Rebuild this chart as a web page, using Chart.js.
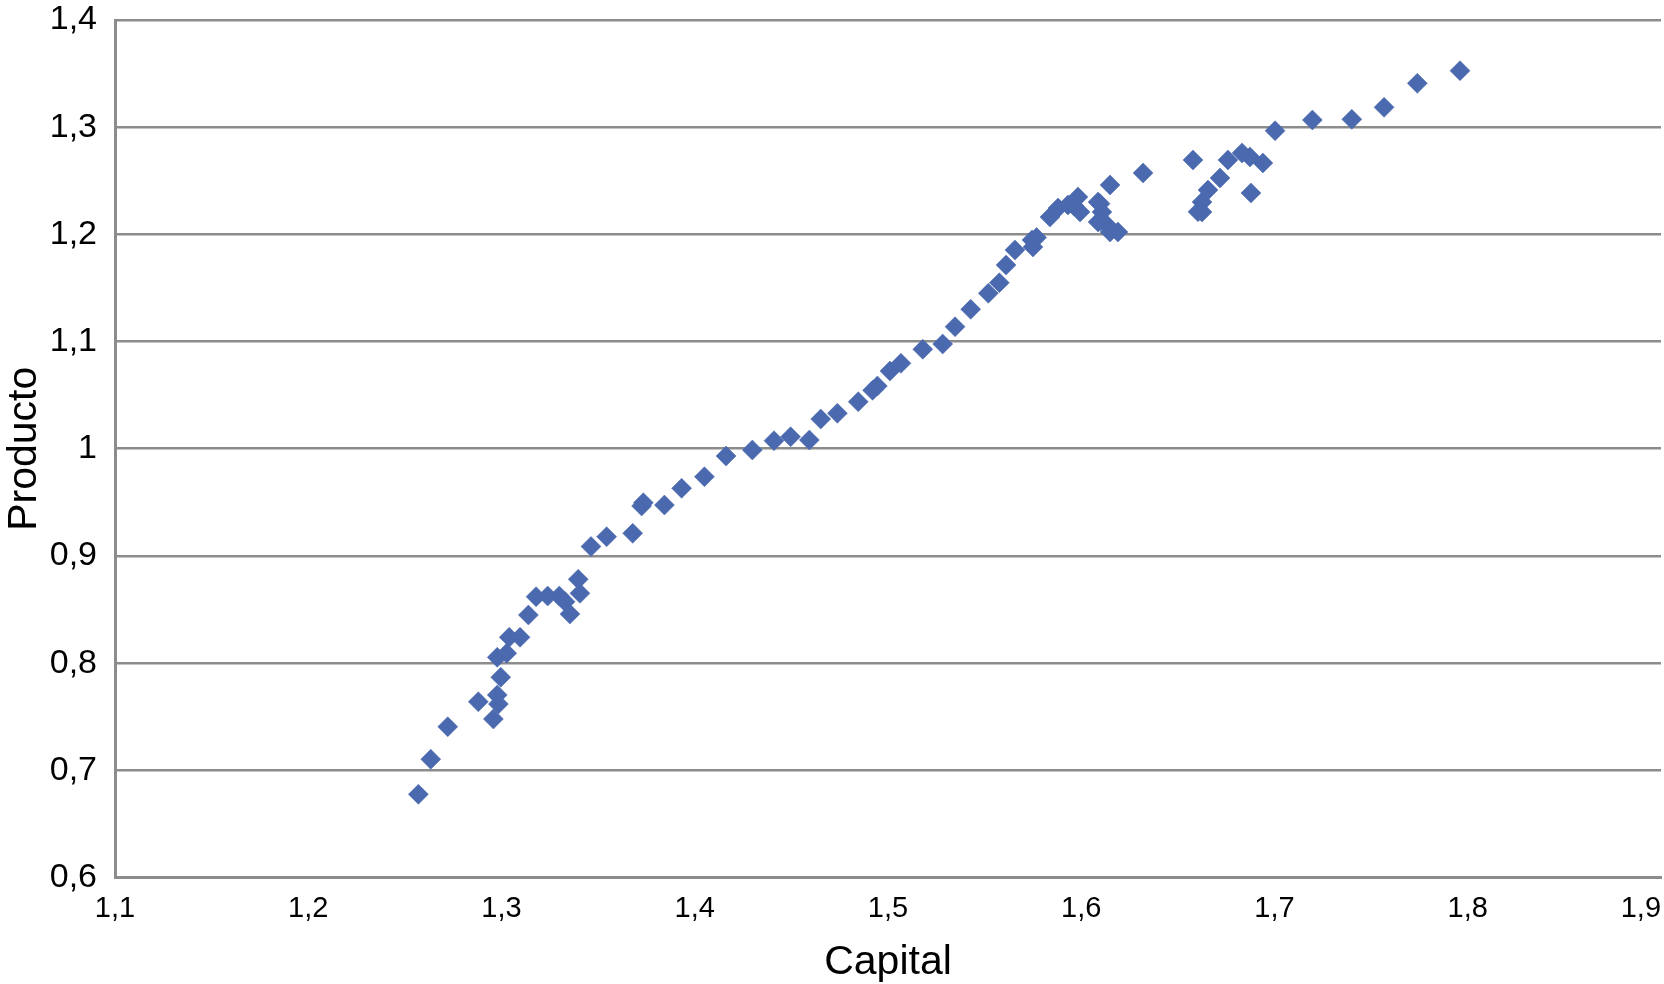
<!DOCTYPE html>
<html>
<head>
<meta charset="utf-8">
<script src="https://cdn.jsdelivr.net/npm/chart.js@4"></script>
<style>
  body { margin: 0; background: #fff; overflow: hidden; }
  #wrap { width: 1664px; height: 984px; }
</style>
</head>
<body>
<div id="wrap"><canvas id="chart-area"></canvas></div>
<script>
// values
var capital = [
  1.2570, 1.2634, 1.2722, 1.2880, 1.2958, 1.2984, 1.2978, 1.2996, 1.2978, 1.3027,
  1.3040, 1.3096, 1.3139, 1.3179, 1.3239, 1.3299, 1.3329, 1.3354, 1.3397, 1.3406,
  1.3463, 1.3544, 1.3679, 1.3725, 1.3734, 1.3843, 1.3932, 1.4050, 1.4162, 1.4298,
  1.4410, 1.4496, 1.4593, 1.4652, 1.4738, 1.4846, 1.4920, 1.4945, 1.5010, 1.5067,
  1.5180, 1.5283, 1.5347, 1.5428, 1.5519, 1.5576, 1.5611, 1.5657, 1.5745, 1.5750,
  1.5769, 1.5838, 1.5880, 1.5931, 1.5983, 1.5994, 1.5960, 1.6087, 1.6107, 1.6087,
  1.6133, 1.6149, 1.6190, 1.6149, 1.6097, 1.6097, 1.6320, 1.6578, 1.6625, 1.6625,
  1.6604, 1.6656, 1.6718, 1.6759, 1.6832, 1.6873, 1.6940, 1.6878, 1.7003, 1.7196,
  1.7400, 1.7567, 1.7739, 1.7960
];
var producto = [
  0.6776, 0.7103, 0.7407, 0.7640, 0.7479, 0.7619, 0.7703, 0.7868, 0.8054, 0.8092,
  0.8241, 0.8241, 0.8449, 0.8620, 0.8626, 0.8626, 0.8573, 0.8458, 0.8782, 0.8651,
  0.9088, 0.9180, 0.9211, 0.9466, 0.9497, 0.9475, 0.9631, 0.9739, 0.9932, 0.9988,
  1.0075, 1.0112, 1.0082, 1.0277, 1.0331, 1.0439, 1.0545, 1.0585, 1.0725, 1.0797,
  1.0928, 1.0977, 1.1139, 1.1301, 1.1450, 1.1549, 1.1714, 1.1855, 1.1948, 1.1882,
  1.1970, 1.2162, 1.2246, 1.2274, 1.2349, 1.2209, 1.2270, 1.2302, 1.2209, 1.2116,
  1.2088, 1.2022, 1.2022, 1.2461, 1.2286, 1.2125, 1.2573, 1.2694, 1.2302, 1.2209,
  1.2211, 1.2414, 1.2526, 1.2694, 1.2760, 1.2722, 1.2666, 1.2386, 1.2967, 1.3067,
  1.3073, 1.3185, 1.3409, 1.3527
];
var xTickLabels = ['1,1', '1,2', '1,3', '1,4', '1,5', '1,6', '1,7', '1,8', '1,9'];
var yTickLabels = ['0,6', '0,7', '0,8', '0,9', '1', '1,1', '1,2', '1,3', '1,4'];

var points = [];
for (var i = 0; i < capital.length; i++) {
  points.push({x: capital[i], y: producto[i]});
}

var fontFamily = '"Liberation Sans", Arial, Helvetica, sans-serif';
var gridColor = '#8c8c8c';

var config = {
  type: 'scatter',
  data: {
    datasets: [{
      label: 'Producto',
      data: points,
      pointStyle: 'rectRot',
      pointRadius: 10,
      pointHoverRadius: 10,
      backgroundColor: '#4a69ae',
      borderColor: '#4a69ae',
      borderWidth: 0.5
    }]
  },
  options: {
    responsive: true,
    maintainAspectRatio: false,
    animation: false,
    layout: { autoPadding: false, padding: { left: 0, right: 3, top: 20, bottom: 0 } },
    plugins: {
      legend: { display: false },
      tooltip: { enabled: false }
    },
    scales: {
      x: {
        type: 'linear',
        min: 1.1,
        max: 1.9,
        // fixed box size so the plot lands where the picture has it
        afterFit: function(scale) {
          scale.height = 106.5;
          scale.paddingLeft = 0;
          scale.paddingRight = 0;
        },
        grid: { display: false, drawTicks: false },
        border: { display: true, color: gridColor, width: 3 },
        ticks: {
          stepSize: 0.1,
          padding: 14,
          color: '#000',
          font: { family: fontFamily, size: 29 },
          callback: function(value) {
            var idx = Math.round((value - 1.1) / 0.1);
            // last label sits inside the right edge, as in the picture
            if (idx == xTickLabels.length - 1) return xTickLabels[idx] + '     ';
            return xTickLabels[idx];
          }
        },
        title: {
          display: true,
          text: 'Capital',
          color: '#000',
          font: { family: fontFamily, size: 41 },
          padding: { top: 0, bottom: -3 }
        }
      },
      y: {
        type: 'linear',
        min: 0.6,
        max: 1.4,
        afterFit: function(scale) {
          scale.width = 115;
          scale.paddingTop = 0;
          scale.paddingBottom = 0;
        },
        grid: { display: true, drawTicks: false, color: gridColor, lineWidth: 2.5 },
        border: { display: true, color: gridColor, width: 3 },
        ticks: {
          stepSize: 0.1,
          padding: 18,
          color: '#000',
          font: { family: fontFamily, size: 34 },
          callback: function(value) {
            return yTickLabels[Math.round((value - 0.6) / 0.1)];
          }
        },
        title: {
          display: true,
          text: 'Producto',
          color: '#000',
          font: { family: fontFamily, size: 41 },
          padding: { top: 0, bottom: 0 }
        }
      }
    }
  }
};

var ctx = document.getElementById('chart-area').getContext('2d');
window.myScatter = new Chart(ctx, config);
</script>
</body>
</html>
